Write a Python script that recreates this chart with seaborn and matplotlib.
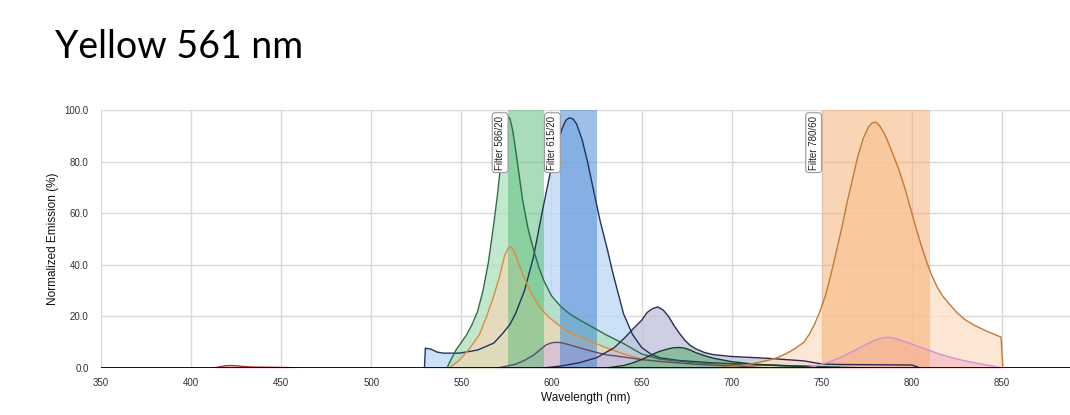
import matplotlib
matplotlib.use("Agg")
import matplotlib.pyplot as plt
import seaborn as sns
import pandas as pd

# ---------------- data ----------------
title_text = "Yellow 561 nm"
x_label = "Wavelength (nm)"
y_label = "Normalized Emission (%)"
x_ticks = [350, 400, 450, 500, 550, 600, 650, 700, 750, 800, 850]
y_ticks = [0, 20, 40, 60, 80, 100]

filter_names = ["Filter 586/20", "Filter 615/20", "Filter 780/60"]
filter_lo = [576, 605, 750]
filter_hi = [596, 625, 810]

# tiny violet-range bump
wl_v = [412, 416, 419, 422, 425, 429, 435, 445, 455, 460]
em_v = [0, 0.5, 0.9, 1.0, 0.9, 0.6, 0.4, 0.3, 0.2, 0]

# green (peak 575)
wl_a = [542, 544, 547, 550, 553, 556, 559, 562, 565, 568, 570, 572, 573.5, 575, 576,
        577, 578.5, 580, 582, 584, 587, 590, 593, 596, 600, 605, 610, 616, 625, 630,
        640, 650, 660, 680, 700, 750, 780]
em_a = [0, 3, 7, 10, 13, 17, 22, 30, 41, 56, 67, 80, 90, 96.5, 97.5,
        96.5, 92, 85, 75, 65, 54, 46, 39, 33.5, 28, 24, 21, 18.5, 15, 13,
        9.5, 5.5, 3.5, 2, 1.5, 0.5, 0]

# orange, lower (peak 577)
wl_b = [543, 548, 552, 556, 560, 564, 568, 571, 574, 576, 577.5, 579, 581, 584, 588,
        593, 598, 607, 616, 630, 640, 650, 660, 680, 700, 720]
em_b = [0, 2.5, 5.5, 9, 13, 20, 28, 35, 43.5, 46.5, 47, 45.5, 42, 36.5, 30,
        24, 20, 15, 12, 8, 5.5, 3.5, 2.5, 1.5, 1, 0]

# blue (peak 610)
wl_c = [529.5, 530, 533, 536.5, 540, 549, 559, 568, 573, 577, 580, 585, 590, 595, 600,
        603, 606, 608, 610, 612, 614, 617, 620, 623, 627, 631, 634, 637, 640, 645,
        650, 655, 660, 670, 690, 720, 760]
em_c = [0, 7.7, 7.4, 6.2, 5.8, 5.8, 7, 9.7, 13.5, 17, 21, 30, 43, 61, 78,
        86, 93, 96, 97, 96.5, 94.5, 88.5, 80, 70, 57, 46, 37, 29, 21, 13,
        8, 5.5, 4, 3, 2, 1.2, 0.3]

# lavender (peak 660)
wl_d = [595, 605, 615, 625, 635, 641, 645, 650, 653, 656, 659, 662, 665, 668, 671,
        674, 677, 680, 685, 690, 700, 720, 740, 750, 760, 800, 805]
em_d = [0, 0.8, 2, 4, 8, 12, 15, 18.5, 21.5, 23, 23.7, 22.5, 20, 16.5, 13.5,
        10.8, 8.8, 7.5, 6, 5.2, 4.5, 3.8, 2.8, 1.6, 1.4, 1.2, 0]

# green, small (peak 670)
wl_e = [630, 640, 645, 650, 655, 660, 665, 668, 671, 674, 677, 680, 685, 690, 700,
        710, 720, 740, 760]
em_e = [0, 1, 2, 3.3, 5, 6.5, 7.5, 7.9, 8, 7.7, 7, 6, 4.8, 3.8, 2.5,
        1.7, 1.2, 0.6, 0]

# orange, large (peak 779)
wl_f = [690, 700, 710, 720, 725, 730, 735, 740, 743, 746, 749, 752, 755, 758, 761,
        764, 767, 770, 773, 776, 778, 780, 782, 785, 788, 790, 793, 796, 799, 802,
        805, 808, 811, 814, 817, 820, 825, 830, 835, 840, 845, 849.5, 850.5]
em_f = [0, 0.5, 1.5, 3, 4, 5.5, 7.5, 10, 13, 17, 22, 28, 36, 45, 54,
        64, 73, 82, 89, 93.5, 95, 95.3, 94, 90.5, 85.5, 82, 76.5, 70, 62.5, 55,
        48, 41.5, 36, 31.5, 28, 25.5, 21.5, 18.5, 16.5, 14.8, 13.3, 12, 0]

# pink (peak 787)
wl_g = [740, 745, 750, 755, 760, 765, 770, 775, 780, 784, 787, 790, 795, 800, 805,
        810, 815, 825, 835, 845, 850]
em_g = [0, 0.5, 1.5, 2.6, 4, 5.7, 7.5, 9.3, 11, 11.8, 12, 11.6, 10.5, 9.3, 8,
        6.8, 5.5, 3.5, 2, 0.8, 0]

# mauve (peak 603)
wl_h = [570, 580, 585, 590, 594, 597, 600, 603, 606, 610, 615, 620, 630, 640, 650,
        660, 680, 700, 720]
em_h = [0, 1.5, 3, 5, 7.3, 9, 9.8, 10, 9.8, 9, 8, 7, 5.2, 4.3, 3.3,
        2.6, 1.5, 0.8, 0]

series = [
    (wl_v, em_v, "#f2c9c4", "#a8323a"),
    (wl_c, em_c, "#bcd7f2", "#1f3560"),
    (wl_a, em_a, "#ade0bd", "#2c6e49"),
    (wl_b, em_b, "#f0d8b8", "#e08a3c"),
    (wl_h, em_h, "#d8bcd8", "#5a4d6e"),
    (wl_d, em_d, "#c0c0db", "#2a2c50"),
    (wl_e, em_e, "#74b68a", "#1d3b2a"),
    (wl_f, em_f, "#fde0c6", "#c27a36"),
    (wl_g, em_g, "#f5bec4", "#d68fd0"),
]
band_colors = ["#55bb75", "#3f80d2", "#f5aa6c"]

# ---------------- plot ----------------
sns.set_theme(style="whitegrid")
plt.rcParams["font.family"] = ["Liberation Sans", "DejaVu Sans"]

fig = plt.figure(figsize=(10.7, 4.15), dpi=100)
ax = fig.add_axes([0.0944, 0.113, 0.906, 0.622])

for wl, em, fc, lc in series:
    ax.fill_between(wl, em, 0, color=fc, alpha=0.75, lw=0, zorder=2)

for lo, hi, col in zip(filter_lo, filter_hi, band_colors):
    ax.axvspan(lo, hi, color=col, alpha=0.5, lw=0, zorder=3)

for wl, em, fc, lc in series:
    df = pd.DataFrame({"wl": wl, "em": em})
    sns.lineplot(data=df, x="wl", y="em", ax=ax, color=lc, lw=1.0,
                 zorder=4, estimator=None, sort=False)

for name, lo in zip(filter_names, filter_lo):
    ax.text(lo - 4.5, 97.8, name, rotation=90, ha="center", va="top",
            fontsize=7, color="#222222", zorder=6,
            bbox=dict(boxstyle="round,pad=0.3", fc="white", ec="#9a9a9a", lw=0.8))

ax.axhline(0, color="black", lw=1.3, zorder=5)

ax.set_xlim(350, 888)
ax.set_ylim(0, 100)
ax.set_xticks(x_ticks)
ax.set_yticks(y_ticks)
ax.set_yticklabels([f"{v:.1f}" for v in y_ticks])
ax.grid(True, color="#d9d9d9", lw=1.0)
ax.set_axisbelow(True)
for s in ax.spines.values():
    s.set_visible(False)
ax.set_facecolor("white")
ax.tick_params(axis="both", length=0, labelsize=7, colors="#333333", pad=7)
ax.tick_params(axis="y", pad=9)
ax.set_xlabel(x_label, fontsize=8.5, color="#111111", labelpad=3)
ax.set_ylabel(y_label, fontsize=8.5, color="#111111", labelpad=4)

fig.text(0.051, 0.86, title_text, fontsize=27, family=["Lato", "DejaVu Sans"],
         color="black", ha="left", va="baseline")

fig.savefig("out.png", dpi=100, facecolor="white")
